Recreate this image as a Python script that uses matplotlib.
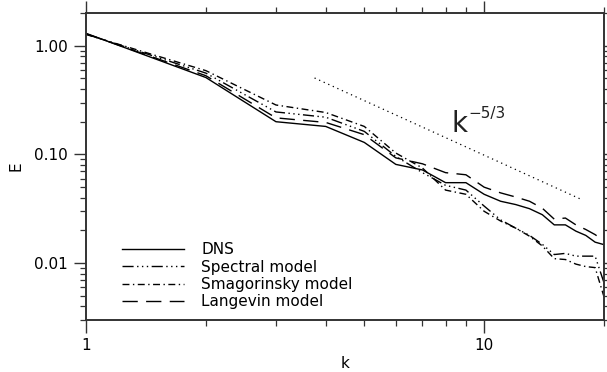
import matplotlib
matplotlib.use("Agg")
import matplotlib.pyplot as plt
from matplotlib.ticker import FixedLocator, LogLocator, NullFormatter

# wavenumbers
k = list(range(1, 21))

# energy spectra
E_dns = [1.30, 0.51, 0.200, 0.181, 0.129, 0.081, 0.072, 0.055, 0.055, 0.043,
         0.0371, 0.0346, 0.0317, 0.0279, 0.0225, 0.0225, 0.0197, 0.0180, 0.0156, 0.0148]
E_spectral = [1.28, 0.56, 0.246, 0.220, 0.163, 0.096, 0.068, 0.052, 0.047, 0.0335,
              0.0250, 0.0210, 0.0180, 0.0149, 0.0120, 0.0123, 0.0116, 0.0116, 0.0116, 0.0066]
E_smag = [1.27, 0.59, 0.285, 0.243, 0.181, 0.103, 0.075, 0.047, 0.043, 0.0300,
          0.0244, 0.0210, 0.0177, 0.0144, 0.0110, 0.0108, 0.0098, 0.0093, 0.0091, 0.0049]
E_langevin = [1.29, 0.53, 0.217, 0.197, 0.152, 0.093, 0.082, 0.068, 0.065, 0.050,
              0.0443, 0.0406, 0.0371, 0.0320, 0.0254, 0.0260, 0.0225, 0.0204, 0.0183, 0.0160]

# k^-5/3 reference line end points
ref_k = [3.75, 17.7]
ref_E = [0.505, 0.038]

labels = ["DNS", "Spectral model", "Smagorinsky model", "Langevin model"]

plt.rcParams["font.family"] = ["DejaVu Sans"]
plt.rcParams["font.size"] = 11

W, H = 607, 372
fig = plt.figure(figsize=(W / 100, H / 100), dpi=100)
ax = fig.add_axes([86 / W, 1 - 320 / H, (604 - 86) / W, (320 - 13) / H])

lc = "black"
ax.plot(k, E_dns, color=lc, lw=1.0, ls="-", label=labels[0])
ax.plot(k, E_spectral, color=lc, lw=1.0, ls=(0, (8, 2.5, 1, 2.5, 1, 2.5, 1, 2.5)), label=labels[1])
ax.plot(k, E_smag, color=lc, lw=1.0, ls=(0, (5, 2.5, 1, 2.5)), label=labels[2])
ax.plot(k, E_langevin, color=lc, lw=1.0, ls=(0, (11, 6)), label=labels[3])
ax.plot(ref_k, ref_E, color=lc, lw=0.9, ls=(0, (1, 3)))

# k^-5/3 annotation (pixel positions from the top-left corner)
fig.text(452 / W, 1 - 132 / H, "k", fontsize=20, color="#222222", ha="left", va="baseline")
fig.text(468 / W, 1 - 118 / H, "\u22125/3", fontsize=11, color="#222222", ha="left", va="baseline")

ax.set_xscale("log")
ax.set_yscale("log")
ax.set_xlim(1, 20)
ax.set_ylim(0.003, 2.0)

ax.xaxis.set_major_locator(FixedLocator([1, 10]))
ax.set_xticklabels(["1", "10"])
ax.xaxis.set_minor_locator(FixedLocator([2, 3, 4, 5, 6, 7, 8, 9, 20]))
ax.xaxis.set_minor_formatter(NullFormatter())
ax.yaxis.set_major_locator(FixedLocator([0.01, 0.1, 1.0]))
ax.set_yticklabels(["0.01", "0.10", "1.00"])
ax.yaxis.set_minor_locator(LogLocator(base=10, subs=range(2, 10)))
ax.yaxis.set_minor_formatter(NullFormatter())

ax.tick_params(which="both", direction="out", top=True, right=True, color="#333333")
ax.tick_params(which="major", length=9, width=1.0)
ax.tick_params(which="minor", length=4, width=0.9)
ax.tick_params(axis="x", which="major", pad=4)
ax.tick_params(axis="y", which="major", pad=4)
for sp in ax.spines.values():
    sp.set_linewidth(1.4)
    sp.set_color("#333333")

ax.set_xlabel("k", labelpad=2)
ax.set_ylabel("E", labelpad=8)

ax.legend(loc="lower left", bbox_to_anchor=(0.048, 0.0), frameon=False,
          handlelength=4.1, handletextpad=1.1, labelspacing=0.15, borderpad=0.2)

fig.savefig("out.png", dpi=100)
